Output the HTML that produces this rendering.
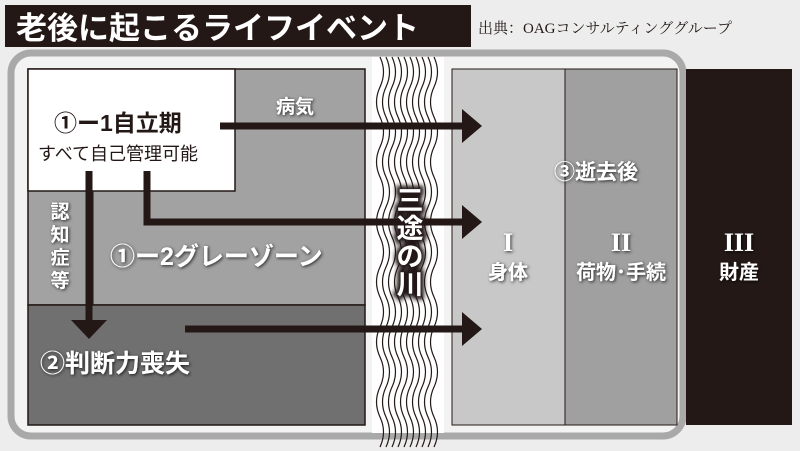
<!DOCTYPE html>
<html><head><meta charset="utf-8"><style>
body{margin:0;width:800px;height:451px;overflow:hidden;background:#ececec;font-family:"Liberation Sans","Noto Sans CJK JP",sans-serif;}
</style></head><body>
<svg width="800" height="451" xmlns="http://www.w3.org/2000/svg" style="position:absolute;left:0;top:0">
<defs>
<filter id="sh" x="-20%" y="-20%" width="140%" height="140%"><feDropShadow dx="1" dy="1" stdDeviation="1.5" flood-color="#000" flood-opacity="0.8"/></filter>
<filter id="bl" x="-30%" y="-30%" width="160%" height="160%"><feGaussianBlur stdDeviation="2"/></filter>
</defs>
<rect width="800" height="451" fill="#ededed"/>
<rect x="5" y="5" width="466" height="42" fill="#231815"/>
<text x="16" y="39" font-size="31" font-weight="bold" fill="#fff">老後に起こるライフイベント</text>
<text x="478" y="33" font-size="15" fill="#231815" font-family="Liberation Serif,Noto Serif CJK SC,serif">出典：OAGコンサルティンググループ</text>
<rect x="11" y="53" width="672" height="383" rx="20" fill="#f3f3f3" stroke="#a9a9a9" stroke-width="7"/>
<rect x="28" y="69" width="337" height="236" fill="#a2a2a2" stroke="#231815" stroke-width="1.5"/>
<rect x="28" y="305" width="337" height="120" fill="#707070" stroke="#231815" stroke-width="1.5"/>
<rect x="28" y="69" width="207" height="122" fill="#fff" stroke="#231815" stroke-width="1.5"/>
<line x1="93" y1="191" x2="93" y2="305" stroke="#231815" stroke-width="1"/>
<rect x="372" y="57" width="72" height="376" fill="#fff"/>
<g fill="none" stroke="#231815" stroke-width="1.2">
<path id="w" d="M380 57 q7 15 0 30 q-7 15 0 30 q7 15 0 30 q-7 15 0 30 q7 15 0 30 q-7 15 0 30 q7 15 0 30 q-7 15 0 30 q7 15 0 30 q-7 15 0 30 q7 15 0 30 q-7 15 0 30 q7 15 0 30"/>
<use href="#w" x="6"/><use href="#w" x="12"/><use href="#w" x="18"/><use href="#w" x="24"/><use href="#w" x="30"/><use href="#w" x="36"/><use href="#w" x="42"/><use href="#w" x="48"/><use href="#w" x="54"/>
</g>
<rect x="452" y="69" width="113" height="356" fill="#c8c8c8" stroke="#231815" stroke-width="1"/>
<rect x="565" y="69" width="112" height="356" fill="#a0a0a0" stroke="#231815" stroke-width="1"/>
<rect x="686" y="69" width="106" height="356" fill="#231815"/>
<g fill="#231815" stroke="#231815">
<line x1="220" y1="126" x2="465" y2="126" stroke-width="7"/>
<polygon points="462,109 482,126 462,143" stroke="none"/>
<polyline points="147,171 147,222 465,222" fill="none" stroke-width="7"/>
<polygon points="462,205 482,222 462,239" stroke="none"/>
<line x1="185" y1="329" x2="465" y2="329" stroke-width="7"/>
<polygon points="462,312 482,329 462,346" stroke="none"/>
<line x1="89" y1="171" x2="89" y2="322" stroke-width="7"/>
<polygon points="71,320 107,320 89,339" stroke="none"/>
</g>
<text x="54" y="131" font-size="23" font-weight="bold" fill="#231815">①ー1自立期</text>
<text x="38" y="160" font-size="18" fill="#231815">すべて自己管理可能</text>
<text x="276" y="113" font-size="19" font-weight="bold" fill="#fff" filter="url(#sh)">病気</text>
<g font-size="19" font-weight="bold" fill="#fff" filter="url(#sh)" text-anchor="middle">
<text x="60" y="218">認</text><text x="60" y="241">知</text><text x="60" y="264">症</text><text x="60" y="287">等</text>
</g>
<text x="110" y="265" font-size="25" font-weight="bold" fill="#fff" filter="url(#sh)">①ー2グレーゾーン</text>
<text x="40" y="372" font-size="25" font-weight="bold" fill="#fff" filter="url(#sh)">②判断力喪失</text>
<g font-size="27" font-weight="bold" fill="#231815" stroke="#231815" stroke-width="7" text-anchor="middle" filter="url(#bl)">
<text x="410" y="210">三</text><text x="410" y="238">途</text><text x="410" y="266">の</text><text x="410" y="294">川</text>
</g>
<g font-size="27" font-weight="bold" fill="#fff" text-anchor="middle">
<text x="410" y="210">三</text><text x="410" y="238">途</text><text x="410" y="266">の</text><text x="410" y="294">川</text>
</g>
<text x="554" y="179" font-size="21" font-weight="bold" fill="#fff" filter="url(#sh)">③逝去後</text>
<g fill="#fff" filter="url(#sh)" text-anchor="middle" font-weight="bold">
<text x="508" y="251" font-size="26" font-family="Liberation Serif,serif">I</text>
<text x="508" y="279" font-size="20">身体</text>
<text x="621" y="251" font-size="26" font-family="Liberation Serif,serif">II</text>
<text x="621" y="279" font-size="20">荷物･手続</text>
<text x="739" y="251" font-size="26" font-family="Liberation Serif,serif">III</text>
<text x="739" y="279" font-size="20">財産</text>
</g>
</svg>
</body></html>
